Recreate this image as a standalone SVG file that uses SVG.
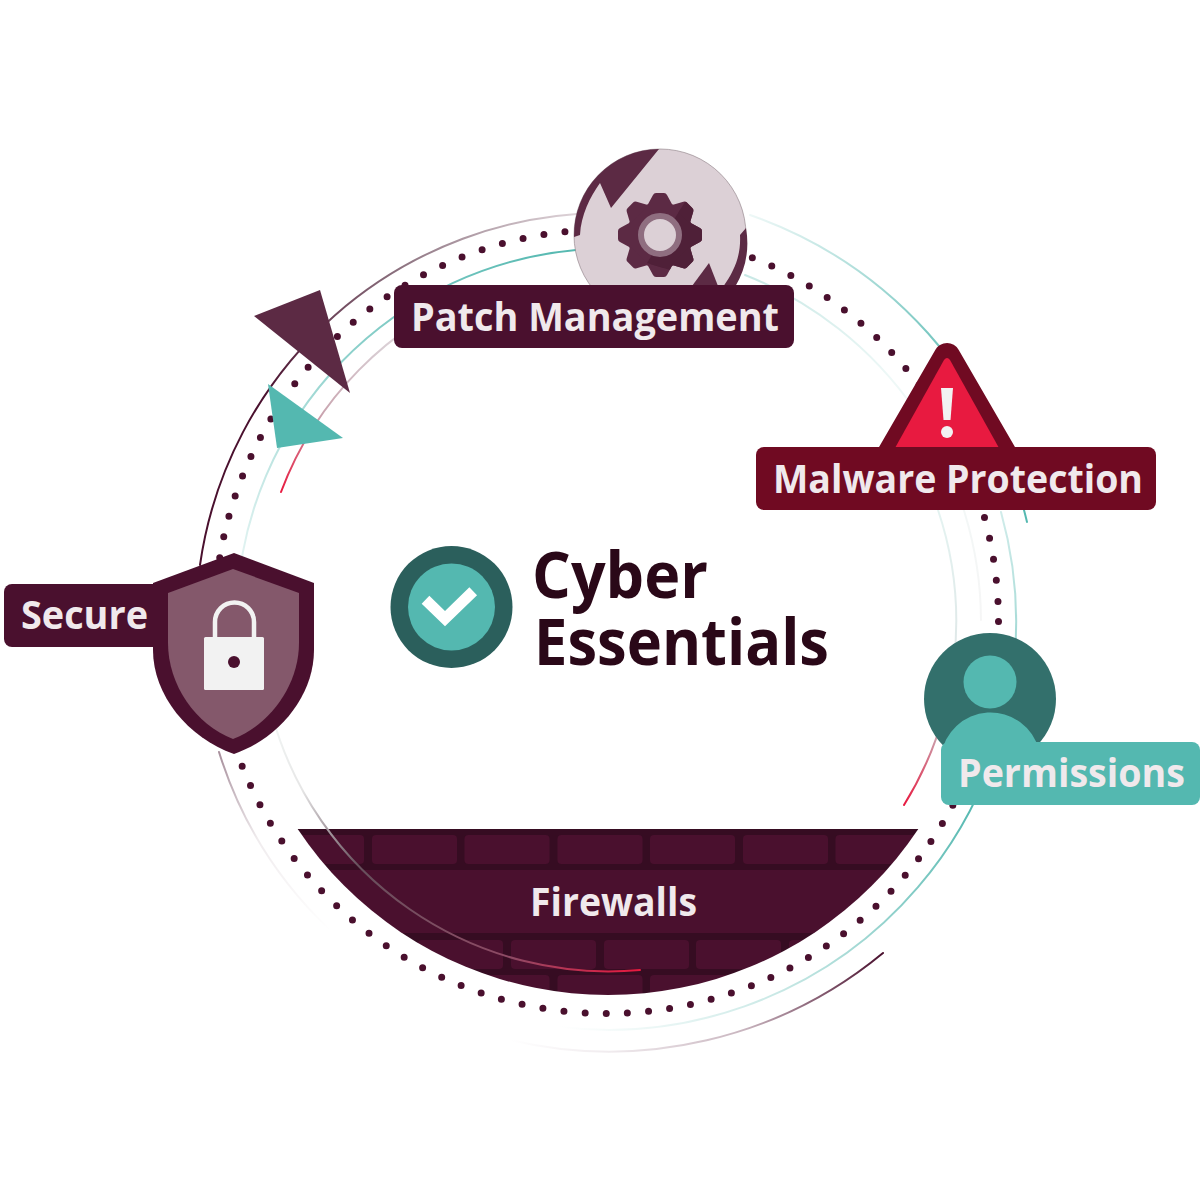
<svg xmlns="http://www.w3.org/2000/svg" width="1200" height="1200" viewBox="0 0 1200 1200">
<style>
text{font-family:"Open Sans","Noto Sans",sans-serif;font-weight:700}
.lbl{font-size:40px;fill:#f0e9ec}
.logo{font-size:65px;fill:#2a0818}
.arc{fill:none;stroke-width:2;stroke-linecap:round}
.brick{fill:#4a102e}
</style>
<defs>
<linearGradient id="g1" gradientUnits="userSpaceOnUse" x1="200" y1="565" x2="600" y2="213"><stop offset="0" stop-color="#4a102e"/><stop offset=".3" stop-color="#4a102e"/><stop offset=".64" stop-color="#8a6f7d"/><stop offset="1" stop-color="#e6dde1"/></linearGradient>
<linearGradient id="g2" gradientUnits="userSpaceOnUse" x1="883" y1="953" x2="510" y2="1040"><stop offset="0" stop-color="#4a102e"/><stop offset=".4" stop-color="#c9b5bf"/><stop offset=".75" stop-color="#f0ebee"/><stop offset="1" stop-color="#fff"/></linearGradient>
<linearGradient id="g2b" gradientUnits="userSpaceOnUse" x1="219" y1="752" x2="330" y2="930"><stop offset="0" stop-color="#a78f9c"/><stop offset=".45" stop-color="#f0ecee"/><stop offset="1" stop-color="#fff"/></linearGradient>
<linearGradient id="g3" gradientUnits="userSpaceOnUse" x1="1027" y1="522" x2="750" y2="215"><stop offset="0" stop-color="#54b8b0"/><stop offset=".5" stop-color="#7cc9c3"/><stop offset="1" stop-color="#eef8f7"/></linearGradient>
<linearGradient id="g4" gradientUnits="userSpaceOnUse" x1="1001" y1="512" x2="560" y2="1027"><stop offset="0" stop-color="#d0ecea"/><stop offset=".35" stop-color="#54b8b0"/><stop offset=".75" stop-color="#c8e8e5"/><stop offset="1" stop-color="#fff"/></linearGradient>
<linearGradient id="g5" gradientUnits="userSpaceOnUse" x1="576" y1="250" x2="237" y2="600"><stop offset="0" stop-color="#54b8b0"/><stop offset=".5" stop-color="#90d2cd"/><stop offset="1" stop-color="#f0f9f8"/></linearGradient>
<linearGradient id="g6" gradientUnits="userSpaceOnUse" x1="745" y1="275" x2="981" y2="620"><stop offset="0" stop-color="#c8e8e5"/><stop offset=".4" stop-color="#eef8f7"/><stop offset="1" stop-color="#f6f6f6"/></linearGradient>
<linearGradient id="g7" gradientUnits="userSpaceOnUse" x1="281" y1="492" x2="480" y2="290"><stop offset="0" stop-color="#e8193f"/><stop offset=".3" stop-color="#c9a5b0"/><stop offset=".6" stop-color="#d8ccd2"/><stop offset="1" stop-color="#eeeaec"/></linearGradient>
<linearGradient id="g8" gradientUnits="userSpaceOnUse" x1="904" y1="805" x2="938" y2="510"><stop offset="0" stop-color="#e8193f"/><stop offset=".25" stop-color="#c9a5b0"/><stop offset=".55" stop-color="#dfe8e8"/><stop offset="1" stop-color="#e4f3f1"/></linearGradient>
<linearGradient id="g9" gradientUnits="userSpaceOnUse" x1="640" y1="970" x2="272" y2="715"><stop offset="0" stop-color="#e8193f"/><stop offset=".25" stop-color="#8f4a65"/><stop offset=".65" stop-color="#66505c"/><stop offset=".85" stop-color="#e6e6e6"/><stop offset="1" stop-color="#f2f6f5"/></linearGradient>
<clipPath id="fw"><path d="M0,829H1200V1100H0Z" clip-path="url(#fc)"/></clipPath>
<clipPath id="fc"><circle cx="608" cy="622" r="373"/></clipPath>
<clipPath id="gs"><polygon points="685,202 647,263 720,285 725,190"/></clipPath>
<g id="gearShape"><circle cx="660" cy="235" r="33"/><g id="teeth">
<path id="t" d="M647,206L653,195Q654,193 656,193H664Q666,193 667,195L673,206Z"/>
<use href="#t" transform="rotate(45 660 235)"/><use href="#t" transform="rotate(90 660 235)"/><use href="#t" transform="rotate(135 660 235)"/><use href="#t" transform="rotate(180 660 235)"/><use href="#t" transform="rotate(225 660 235)"/><use href="#t" transform="rotate(270 660 235)"/><use href="#t" transform="rotate(315 660 235)"/></g></g>
</defs>
<rect width="1200" height="1200" fill="#fff"/>

<g id="firewall-wall" clip-path="url(#fw)">
<rect x="230" y="829" width="760" height="170" fill="#360c22"/>
<rect x="230" y="870" width="760" height="63" fill="#4a102e"/>
<g class="brick">
<rect x="279" y="835" width="85" height="29" rx="4"/><rect x="372" y="835" width="85" height="29" rx="4"/><rect x="464.500" y="835" width="85" height="29" rx="4"/><rect x="557.500" y="835" width="85" height="29" rx="4"/><rect x="650" y="835" width="85" height="29" rx="4"/><rect x="743" y="835" width="85" height="29" rx="4"/><rect x="835.500" y="835" width="85" height="29" rx="4"/>
<rect x="418" y="940" width="85" height="29" rx="4"/><rect x="511" y="940" width="85" height="29" rx="4"/><rect x="604" y="940" width="85" height="29" rx="4"/><rect x="696" y="940" width="85" height="29" rx="4"/><rect x="789" y="940" width="85" height="29" rx="4"/>
<rect x="464.500" y="975" width="85" height="29" rx="4"/><rect x="557.500" y="975" width="85" height="29" rx="4"/><rect x="650" y="975" width="85" height="29" rx="4"/>
</g>
</g>

<g id="connectors">
<circle cx="606.500" cy="621.500" r="392" fill="none" stroke="#4a102e" stroke-width="7" stroke-linecap="round" stroke-dasharray="0 21.233"/>
<path class="arc" stroke="url(#g1)" d="M200,565A410,410 0 0 1 600,213"/>
<path class="arc" stroke="url(#g2)" d="M883,953A430,430 0 0 1 510,1040"/>
<path class="arc" stroke="url(#g2b)" d="M219,752A415,415 0 0 0 330,930"/>
<path class="arc" stroke="url(#g3)" d="M1027,522A430,430 0 0 0 750,215"/>
<path class="arc" stroke="url(#g4)" d="M1001,512A408,408 0 0 1 560,1027"/>
<path class="arc" stroke="url(#g5)" d="M576,250A373,373 0 0 0 237,600"/>
<path class="arc" stroke="url(#g6)" d="M745,275A373,373 0 0 1 981,620"/>
<path class="arc" stroke="url(#g7)" d="M281,492A349,349 0 0 1 480,290"/>
<path class="arc" stroke="url(#g8)" d="M904,805A349,349 0 0 0 938,510"/>
<path class="arc" stroke="url(#g9)" d="M640,970A349,349 0 0 1 272,715"/>
<polygon fill="#5c2a44" points="254,316 320,290 350,393"/>
<polygon fill="#54b8b0" points="268,384 343,438 277,448"/>
</g>

<g id="firewalls">
<text class="lbl" x="530" y="916" textLength="167" lengthAdjust="spacingAndGlyphs">Firewalls</text>
</g>

<g id="patch-management">
<circle cx="660" cy="235" r="86" fill="#dcd0d6" stroke="#8a7a82" stroke-width=".6"/>
<path fill="#5c2a44" d="M659,149A86,86 0 0 0 574,237L580,235C581,215 590,197 600,183L611,208Z"/>
<path fill="#5c2a44" d="M746,228L740,235C741,255 735,270 723,287L735,287A86,86 0 0 0 746,228Z"/>
<polygon fill="#5c2a44" points="692,286 709,263 718,286"/>
<use href="#gearShape" fill="#5c2a44"/>
<use href="#gearShape" fill="#4f2038" clip-path="url(#gs)"/>
<circle cx="660" cy="235" r="19" fill="#dcd0d6" stroke="#8f6e80" stroke-width="6"/>
<rect x="394" y="285" width="400" height="63" rx="8" fill="#4a102e"/>
<text class="lbl" x="411" y="331" textLength="368" lengthAdjust="spacingAndGlyphs">Patch Management</text>
</g>

<g id="malware-protection">
<polygon points="947,356.400 1007,460 887,460" fill="#700a22" stroke="#700a22" stroke-width="26.800" stroke-linejoin="round"/>
<path fill="#e81a40" d="M944,360Q947,356 950,360L999,448H895Z"/>
<polygon fill="#f2f2f2" points="941,388 953,388 950.500,420 943.500,420"/>
<circle cx="947" cy="432" r="6" fill="#f2f2f2"/>
<rect x="756" y="447" width="400" height="63" rx="8" fill="#700a22"/>
<text class="lbl" x="773" y="493" textLength="370" lengthAdjust="spacingAndGlyphs">Malware Protection</text>
</g>

<g id="secure">
<rect x="4" y="584" width="170" height="63" rx="8" fill="#4a102e"/>
<path fill="#4a102e" d="M234,553L314,583V650C314,695 280,738 234,754C188,738 153,695 153,650V583Z"/>
<path fill="#84586b" d="M233,569L299,593V643C299,685 270,725 233,739C196,725 168,685 168,643V593Z"/>
<rect x="204" y="637" width="60" height="53" rx="1.500" fill="#f2f2f2"/>
<path fill="none" stroke="#f2f2f2" stroke-width="4.500" d="M215,638V622A19.500,19.500 0 0 1 254,622V638"/>
<circle cx="234" cy="662" r="6" fill="#4a102e"/>
<text class="lbl" x="21" y="629" textLength="127" lengthAdjust="spacingAndGlyphs">Secure</text>
</g>

<g id="permissions">
<circle cx="990" cy="699" r="66" fill="#33706c"/>
<circle cx="990" cy="682" r="26.500" fill="#54b8b0"/>
<path fill="#54b8b0" d="M941,760V756A50,50 0 0 1 1039,750V760Z"/>
<rect x="941" y="742" width="259" height="63" rx="8" fill="#54b8b0"/>
<text class="lbl" x="958" y="787" textLength="227" lengthAdjust="spacingAndGlyphs">Permissions</text>
</g>

<g id="cyber-essentials">
<circle cx="451.500" cy="607" r="61" fill="#2b5f5c"/>
<circle cx="451.500" cy="607" r="43.500" fill="#54b8b0"/>
<polyline points="425.500,599.800 445,618.700 473.200,591.200" fill="none" stroke="#fff" stroke-width="11"/>
<text class="logo" x="532" y="598" textLength="176" lengthAdjust="spacingAndGlyphs">Cyber</text>
<text class="logo" x="534" y="665" textLength="295" lengthAdjust="spacingAndGlyphs">Essentials</text>
</g>
</svg>
